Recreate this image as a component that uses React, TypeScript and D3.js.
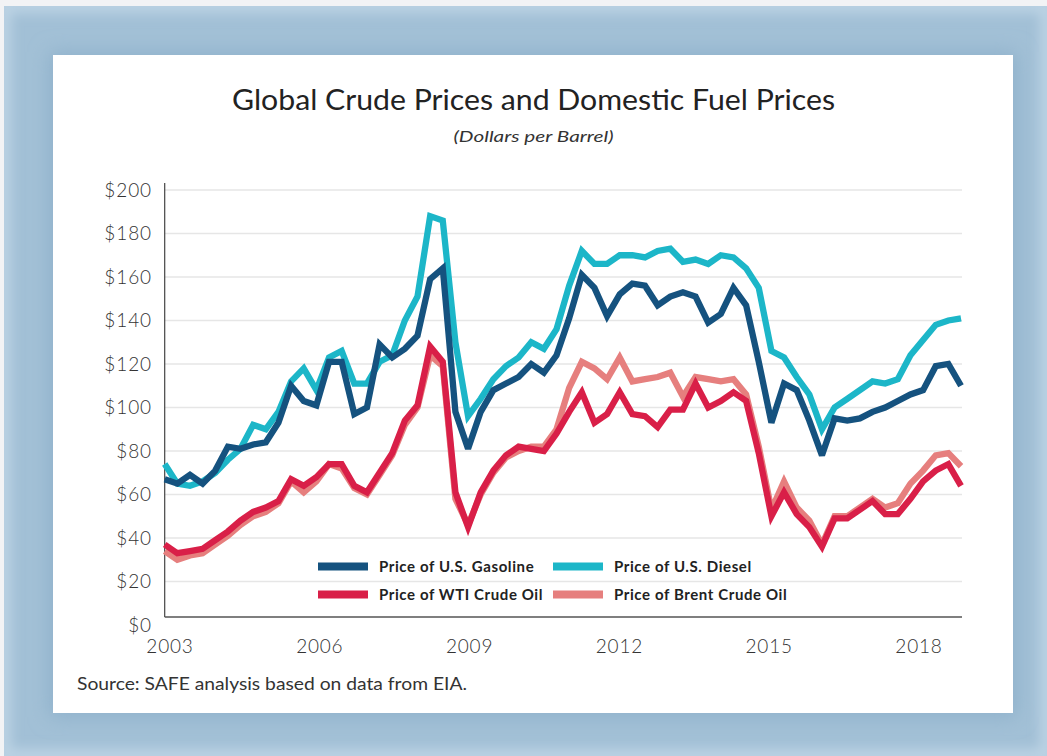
import React from "react";
import * as d3 from "d3";

const startYear = 2003;
const gasoline = [67, 65, 69, 65, 71, 82, 81, 83, 84, 93, 110, 103, 101, 121, 121, 97, 100, 129, 123, 127, 133, 159, 164, 98, 81, 98, 108, 111, 114, 120, 116, 124, 141, 161, 155, 142, 152, 157, 156, 147, 151, 153, 151, 139, 143, 155, 147, 121, 93, 111, 108, 94, 78, 95, 94, 95, 98, 100, 103, 106, 108, 119, 120, 110];
const diesel = [74, 65, 64, 66, 70, 76, 81, 92, 90, 98, 112, 118, 108, 123, 126, 111, 111, 121, 124, 140, 151, 188, 186, 130, 96, 104, 113, 119, 123, 130, 127, 136, 156, 172, 166, 166, 170, 170, 169, 172, 173, 167, 168, 166, 170, 169, 164, 155, 126, 123, 114, 106, 90, 100, 104, 108, 112, 111, 113, 124, 131, 138, 140, 141];
const wti = [37, 33, 34, 35, 39, 43, 48, 52, 54, 57, 67, 64, 68, 74, 74, 64, 61, 70, 79, 94, 101, 128, 121, 61, 45, 61, 71, 78, 82, 81, 80, 88, 98, 107, 93, 97, 107, 97, 96, 91, 99, 99, 111, 100, 103, 107, 103, 79, 50, 61, 51, 45, 36, 49, 49, 53, 57, 51, 51, 58, 66, 71, 74, 64];
const brent = [34, 30, 32, 33, 37, 41, 46, 50, 52, 56, 66, 61, 66, 74, 72, 63, 60, 69, 78, 92, 100, 124, 119, 58, 46, 60, 70, 77, 80, 82, 82, 90, 109, 121, 118, 113, 123, 112, 113, 114, 116, 105, 114, 113, 112, 113, 106, 82, 53, 66, 54, 48, 37, 50, 50, 54, 58, 54, 56, 65, 71, 78, 79, 73];

const yTicks = [0, 20, 40, 60, 80, 100, 120, 140, 160, 180, 200];
const xTickYears = [2003, 2006, 2009, 2012, 2015, 2018];

const seriesList = [
  { name: "Price of Brent Crude Oil", values: brent, color: "#e67f7e" },
  { name: "Price of WTI Crude Oil", values: wti, color: "#d91f48" },
  { name: "Price of U.S. Diesel", values: diesel, color: "#1cb6c8" },
  { name: "Price of U.S. Gasoline", values: gasoline, color: "#15527f" },
];

const legendRows = [
  ["Price of U.S. Gasoline", "Price of U.S. Diesel"],
  ["Price of WTI Crude Oil", "Price of Brent Crude Oil"],
];

const FONT = "Lato, 'Open Sans', sans-serif";

export default function App() {
  const W = 1047;
  const H = 756;
  const plotLeft = 164.7;
  const plotRight = 962;
  const x = d3.scaleLinear().domain([0, gasoline.length - 1]).range([plotLeft, 961]);
  const xLabel = d3.scaleLinear().domain([2003, 2018]).range([170, 919]);
  const y = d3.scaleLinear().domain([0, 200]).range([625, 190]);
  const line = d3
    .line<number>()
    .x((_, i) => x(i))
    .y((d) => y(d));
  const colorOf = (n: string) => seriesList.find((s) => s.name === n)!.color;

  return (
    <svg
      width={W}
      height={H}
      style={{ position: "absolute", left: 0, top: 0 }}
      xmlns="http://www.w3.org/2000/svg"
    >
      <defs>
        <filter id="shadow" x="-10%" y="-10%" width="120%" height="120%">
          <feGaussianBlur stdDeviation="10" />
        </filter>
        <filter id="edge" x="-10%" y="-10%" width="120%" height="120%">
          <feGaussianBlur stdDeviation="6" />
        </filter>
        <clipPath id="frameClip">
          <rect x={4} y={6} width={W - 4} height={H - 6} />
        </clipPath>
      </defs>
      <rect x={0} y={0} width={W} height={H} fill="#f2f3f5" />
      <g clipPath="url(#frameClip)">
        <rect x={4} y={6} width={W - 4} height={H - 6} fill="#a2c0d6" />
        <rect
          x={4}
          y={6}
          width={W - 4}
          height={H - 6}
          fill="none"
          stroke="#bcd3e4"
          strokeWidth={14}
          filter="url(#edge)"
        />
        <rect x={49} y={52} width={968} height={665} fill="#8fb1cb" filter="url(#shadow)" />
      </g>
      <rect x={53} y={55} width={960} height={658} fill="#ffffff" />

      <text
        x={533.5}
        y={110}
        textAnchor="middle"
        fontFamily={FONT}
        fontSize={28}
        fill="#222"
        textLength={603}
        lengthAdjust="spacingAndGlyphs"
      >
        Global Crude Prices and Domestic Fuel Prices
      </text>
      <text
        x={533.5}
        y={142}
        textAnchor="middle"
        fontFamily={FONT}
        fontSize={16}
        fontStyle="italic"
        fill="#333"
        textLength={160}
        lengthAdjust="spacingAndGlyphs"
      >
        (Dollars per Barrel)
      </text>

      {yTicks.map((t) => (
        <g key={t}>
          {t > 0 && (
            <line x1={plotLeft} x2={plotRight} y1={y(t)} y2={y(t)} stroke="#e6e6e6" strokeWidth={1.5} />
          )}
          <text
            x={152}
            y={y(t) + 6.5}
            textAnchor="end"
            fontFamily={FONT}
            fontSize={19}
            fontWeight={300}
            fill="#333"
            letterSpacing={0.9}
          >
            {"$" + t}
          </text>
        </g>
      ))}

      {xTickYears.map((yr) => (
        <text
          key={yr}
          x={xLabel(yr)}
          y={653}
          textAnchor="middle"
          fontFamily={FONT}
          fontSize={19}
          fontWeight={300}
          fill="#333"
          letterSpacing={0.8}
        >
          {yr}
        </text>
      ))}

      {legendRows.map((row, r) =>
        row.map((name, c) => {
          const sx = c === 0 ? 318 : 553;
          const ly = r === 0 ? 566.5 : 594.5;
          return (
            <g key={name}>
              <line x1={sx} x2={sx + 50} y1={ly} y2={ly} stroke={colorOf(name)} strokeWidth={8} />
              <text
                x={sx + 61}
                y={ly + 5.5}
                fontFamily={FONT}
                fontSize={15}
                fontWeight={700}
                fill="#222"
                letterSpacing={0.6}
              >
                {name}
              </text>
            </g>
          );
        })
      )}

      <line x1={plotLeft} x2={plotLeft} y1={183} y2={617} stroke="#444" strokeWidth={1.2} />
      <line x1={plotLeft} x2={plotRight} y1={617} y2={617} stroke="#555" strokeWidth={1.3} />

      {seriesList.map((s) => (
        <path
          key={s.name}
          d={line(s.values) || ""}
          fill="none"
          stroke={s.color}
          strokeWidth={6.3}
          strokeLinejoin="miter"
          strokeMiterlimit={3}
        />
      ))}

      <text
        x={77}
        y={690}
        fontFamily={FONT}
        fontSize={17}
        fill="#333"
        textLength={390}
        lengthAdjust="spacingAndGlyphs"
      >
        Source: SAFE analysis based on data from EIA.
      </text>
    </svg>
  );
}
